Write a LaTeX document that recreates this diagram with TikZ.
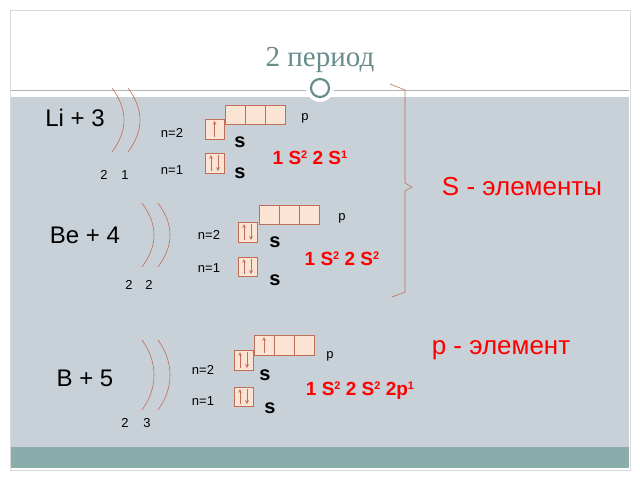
\documentclass[tikz,border=0pt]{standalone}
\usepackage{fontspec}
\setmainfont{Liberation Sans}
\newfontfamily\serifru{Liberation Serif}
\newcommand{\sps}[1]{\raisebox{6pt}{\fontsize{11}{11}\selectfont #1}}
\begin{document}
\begin{tikzpicture}[x=1pt,y=-1pt,
 bx/.style={draw=orb,fill=orbf,line width=0.8pt},
 arc/.style={draw=orb,line width=0.6pt},
 lab/.style={font=\fontsize{13}{13}\selectfont},
 el/.style={font=\fontsize{24}{24}\selectfont},
 ss/.style={font=\bfseries\fontsize{20}{20}\selectfont},
 fm/.style={font=\bfseries\fontsize{19}{19}\selectfont,text=red},
 ar/.style={draw=orb,line width=0.7pt,->,>=stealth}]
\definecolor{orb}{RGB}{192,110,90}
\definecolor{orbf}{RGB}{251,228,212}
\definecolor{body}{RGB}{200,209,215}
\definecolor{band}{RGB}{138,172,171}
\definecolor{ttl}{RGB}{105,140,140}
\useasboundingbox (0,0) rectangle (640,480);
\fill[white] (0,0) rectangle (640,480);
\draw[draw=gray!30,line width=1pt] (10,10) rectangle (630,470);
\fill[body] (11,97) rectangle (629,447);
\fill[band] (11,447) rectangle (629,468);
\draw[gray!60] (11,90) -- (629,90);
\node[text=ttl,font=\serifru\fontsize{29}{29}\selectfont] (title) at (320,60) {2 период};
\fill[white] (320,88) circle (14);
\draw[ttl,line width=2.2pt] (320,88) circle (9);
% brace
\draw[arc] (390,84) -- (405,90) -- (405,183) -- (412,187) -- (405,191) -- (405,292) -- (392,297);
\node[text=red,font=\fontsize{26}{26}\selectfont] (sel) at (522,187) {S - элементы};
\node[text=red,font=\fontsize{26}{26}\selectfont] (pel) at (501,350) {p - элемент};
% ---------- Li
\node[el] (li) at (75,118) {Li + 3};
\draw[arc] (112,88) .. controls (128,110) and (128,130) .. (112,152);
\draw[arc] (128,88) .. controls (144,110) and (144,130) .. (128,152);
\node[lab] (li2) at (104,175) {2}; \node[lab] (li1) at (125,175) {1};
\node[lab] (lin2) at (172,133) {n=2}; \node[lab] (lin1) at (172,170) {n=1};
\draw[bx] (205,119) rectangle (224,139);
\draw[bx] (225,105) rectangle (245,124) (245,105) rectangle (265,124) (265,105) rectangle (285,124);
\draw[bx] (205,153) rectangle (224,173);
\draw[ar] (214.5,137) -- (214.5,121);
\draw[ar] (211,171) -- (211,155); \draw[ar] (218,155) -- (218,171);
\node[lab] (lip) at (305,118) {p};
\node[ss] (lis2) at (240,142) {s}; \node[ss] (lis1) at (240,173) {s};
\node[fm] (lif) at (310,158) {1 S\sps{2} 2 S\sps{1}};
% ---------- Be
\node[el] (be) at (85,235) {Be + 4};
\draw[arc] (142,203) .. controls (158,225) and (158,245) .. (142,267);
\draw[arc] (158,203) .. controls (174,225) and (174,245) .. (158,267);
\node[lab] (be2) at (129,285) {2}; \node[lab] (be2b) at (149,285) {2};
\node[lab] (ben2) at (209,235) {n=2}; \node[lab] (ben1) at (209,268) {n=1};
\draw[bx] (238,222) rectangle (257,242);
\draw[bx] (259,205) rectangle (279,224) (279,205) rectangle (299,224) (299,205) rectangle (319,224);
\draw[bx] (238,257) rectangle (257,276);
\draw[ar] (244,240) -- (244,224); \draw[ar] (251,224) -- (251,240);
\draw[ar] (244,274) -- (244,259); \draw[ar] (251,259) -- (251,274);
\node[lab] (bep) at (342,218) {p};
\node[ss] (bes2) at (275,242) {s}; \node[ss] (bes1) at (275,280) {s};
\node[fm] (bef) at (342,259) {1 S\sps{2} 2 S\sps{2}};
% ---------- B
\node[el] (b) at (85,378) {B + 5};
\draw[arc] (142,340) .. controls (158,362) and (158,388) .. (142,410);
\draw[arc] (158,340) .. controls (174,362) and (174,388) .. (158,410);
\node[lab] (b2) at (125,423) {2}; \node[lab] (b3) at (147,423) {3};
\node[lab] (bn2) at (203,370) {n=2}; \node[lab] (bn1) at (203,401) {n=1};
\draw[bx] (234,350) rectangle (253,370);
\draw[bx] (254,335) rectangle (274,355) (274,335) rectangle (294,355) (294,335) rectangle (314,355);
\draw[bx] (234,387) rectangle (253,406);
\draw[ar] (240,368) -- (240,352); \draw[ar] (247,352) -- (247,368);
\draw[ar] (240,404) -- (240,389); \draw[ar] (247,389) -- (247,404);
\draw[ar] (264,353) -- (264,337);
\node[lab] (bp) at (330,356) {p};
\node[ss] (bs2) at (265,375) {s}; \node[ss] (bs1) at (270,408) {s};
\node[fm] (bf) at (360,391) {1 S\sps{2} 2 S\sps{2} 2p\sps{1}};
\end{tikzpicture}
\end{document}
